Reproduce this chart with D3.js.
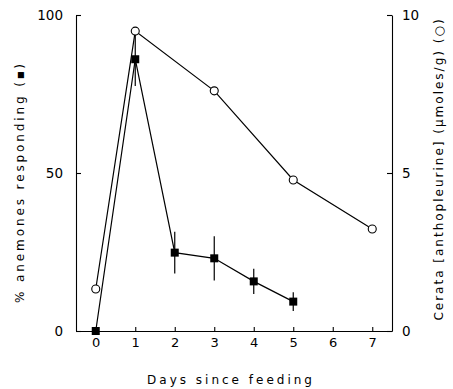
<!DOCTYPE html>
<html>
<head>
<meta charset="utf-8">
<script src="https://cdn.jsdelivr.net/npm/d3@7"></script>
<style>
  body { margin: 0; background: #fff; }
  svg text { font-family: "DejaVu Sans", sans-serif; fill: #000; }
</style>
</head>
<body>
<figure id="chart" style="margin:0"></figure>
<script>
// % anemones responding (filled squares, left axis)
const respDays = [0, 1, 2, 3, 4, 5];
const respPct = [0, 86, 24.8, 23, 15.7, 9.3];
const respErr = [0, 8.5, 6.6, 7, 4, 3];

// cerata anthopleurine, umoles/g (open circles, right axis)
const ceraDays = [0, 1, 3, 5, 7];
const ceraConc = [1.33, 9.49, 7.6, 4.78, 3.23];

const xTicks = [0, 1, 2, 3, 4, 5, 6, 7];
const leftTicks = [0, 50, 100];
const rightTicks = [0, 5, 10];

const width = 453, height = 389;
const plotL = 76, plotR = 392, plotT = 15, plotB = 331;

const svg = d3.select('figure#chart')
  .append('svg')
  .attr('width', width)
  .attr('height', height);

const x = d3.scaleLinear().domain([-0.5, 7.5]).range([plotL, plotR]);
const yL = d3.scaleLinear().domain([0, 100]).range([plotB, plotT]);
const yR = d3.scaleLinear().domain([0, 10]).range([plotB, plotT]);

// axes, ticks pointing inward
const xAxis = svg.append("g")
  .attr("transform", "translate(0," + plotB + ")")
  .call(d3.axisBottom(x).tickValues(xTicks).tickSizeInner(-4).tickSizeOuter(0).tickPadding(7));
xAxis.selectAll("text").attr("font-size", 13).attr("dy", "0.71em");

const lAxis = svg.append("g")
  .attr("transform", "translate(" + plotL + ",0)")
  .call(d3.axisLeft(yL).tickValues(leftTicks).tickSizeInner(-5).tickSizeOuter(0).tickPadding(13));
lAxis.selectAll("text").attr("font-size", 13.5);

const rAxis = svg.append("g")
  .attr("transform", "translate(" + plotR + ",0)")
  .call(d3.axisRight(yR).tickValues(rightTicks).tickSizeInner(-5).tickSizeOuter(0).tickPadding(10));
rAxis.selectAll("text").attr("font-size", 13.5);

svg.selectAll(".domain, .tick line").attr("stroke", "#000").attr("stroke-width", 1.1);

// circles line
svg.append("path")
  .datum(ceraDays.map((d, i) => [d, ceraConc[i]]))
  .attr("fill", "none")
  .attr("stroke", "#000")
  .attr("stroke-width", 1.2)
  .attr("d", d3.line().x(d => x(d[0])).y(d => yR(d[1])));

// squares line
svg.append("path")
  .datum(respDays.map((d, i) => [d, respPct[i]]))
  .attr("fill", "none")
  .attr("stroke", "#000")
  .attr("stroke-width", 1.2)
  .attr("d", d3.line().x(d => x(d[0])).y(d => yL(d[1])));

// error bars
const errData = respDays.map((d, i) => ({ day: d, v: respPct[i], e: respErr[i] })).filter(d => d.e > 0);
svg.selectAll(".err")
  .data(errData)
  .enter()
  .append("line")
  .attr("x1", d => x(d.day)).attr("x2", d => x(d.day))
  .attr("y1", d => yL(d.v + d.e))
  .attr("y2", d => yL(d.v - d.e))
  .attr("stroke", "#000")
  .attr("stroke-width", 1.2);

svg.selectAll(".sq")
  .data(respDays)
  .enter()
  .append("rect")
  .attr("x", (d) => x(d) - 4)
  .attr("y", (d, i) => yL(respPct[i]) - 4)
  .attr("width", 8)
  .attr("height", 8)
  .attr("fill", "#000");

svg.selectAll(".circ")
  .data(ceraDays)
  .enter()
  .append("circle")
  .attr("cx", d => x(d))
  .attr("cy", (d, i) => yR(ceraConc[i]))
  .attr("r", 4)
  .attr("fill", "#fff")
  .attr("stroke", "#000")
  .attr("stroke-width", 1.1);

// axis titles
svg.append("text")
  .attr("x", 231)
  .attr("y", 384)
  .attr("text-anchor", "middle")
  .attr("font-size", 12)
  .attr("letter-spacing", 3)
  .text("Days since feeding");

const lt = svg.append("text")
  .attr("transform", "translate(24,182)rotate(-90)")
  .attr("text-anchor", "middle")
  .attr("font-size", 12)
  .attr("letter-spacing", 2.9);
lt.append("tspan").text("% anemones responding (");
lt.append("tspan").attr("font-size", 8).attr("dy", -1).text("■");
lt.append("tspan").attr("dy", 1).text(")");

svg.append("text")
  .attr("transform", "translate(443,169)rotate(-90)")
  .attr("text-anchor", "middle")
  .attr("font-size", 12)
  .attr("letter-spacing", 2)
  .text("Cerata [anthopleurine] (µmoles/g) (○)");
</script>
</body>
</html>
